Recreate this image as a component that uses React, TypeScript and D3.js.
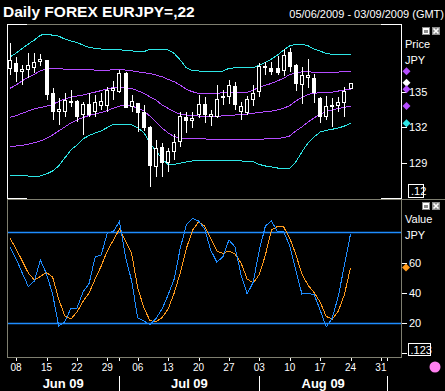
import React from 'react';
import * as d3 from 'd3';

// trading days: Fri 5 Jun 2009 .. Thu 3 Sep 2009 (weekends skipped)
const firstDay = new Date(2009, 5, 5);
const lastDay = new Date(2009, 8, 3);
const days: Date[] = d3.timeDay
  .range(firstDay, d3.timeDay.offset(lastDay, 1))
  .filter(d => d.getDay() !== 0 && d.getDay() !== 6);

// daily candles (JPY per EUR)
const opens = [136.88, 137.43, 136.68, 136.82, 137.03, 137.51, 137.66, 134.87, 133.27, 133.26, 134.05, 134.22, 133.05, 133.97, 133.30, 133.80, 133.80, 135.10, 135.00, 136.57, 133.68, 134.03, 133.30, 132.00, 128.69, 130.34, 128.98, 129.97, 130.78, 132.90, 132.57, 133.05, 134.01, 132.92, 132.84, 134.47, 134.60, 135.48, 133.30, 133.21, 134.30, 135.00, 137.15, 137.01, 136.96, 136.78, 138.37, 137.24, 135.56, 136.19, 136.15, 134.47, 132.90, 133.89, 133.83, 134.05, 135.27];
const highs = [139.06, 137.93, 137.24, 138.22, 138.27, 138.13, 137.70, 135.29, 134.47, 134.87, 135.18, 134.30, 134.11, 134.87, 134.72, 134.87, 135.42, 135.92, 136.82, 136.68, 134.72, 134.05, 133.89, 132.10, 130.91, 130.74, 130.28, 131.45, 133.27, 133.30, 133.34, 134.72, 134.56, 133.47, 135.56, 135.14, 135.98, 135.84, 134.16, 134.64, 135.56, 137.45, 137.49, 137.51, 138.02, 138.58, 138.69, 137.32, 137.07, 137.74, 136.48, 134.56, 134.68, 134.47, 134.58, 135.42, 135.77];
const lows = [136.40, 135.84, 135.56, 136.15, 136.54, 137.15, 134.30, 132.59, 132.21, 132.84, 133.74, 132.42, 131.37, 132.88, 132.90, 133.47, 133.27, 134.30, 134.87, 133.61, 133.34, 131.65, 131.71, 127.04, 127.87, 127.87, 128.27, 129.27, 130.39, 131.51, 131.96, 132.77, 132.38, 132.13, 132.77, 133.89, 133.93, 133.47, 132.63, 133.05, 133.80, 134.56, 136.38, 136.38, 136.40, 136.32, 136.68, 135.08, 133.97, 135.35, 134.05, 132.40, 132.59, 132.07, 133.32, 132.84, 135.25];
const closes = [137.66, 136.68, 136.93, 137.24, 137.49, 137.77, 134.72, 133.30, 133.52, 134.30, 134.22, 132.90, 133.97, 133.05, 134.11, 134.22, 135.14, 135.35, 136.54, 133.66, 134.22, 133.19, 131.96, 128.77, 130.32, 128.98, 130.03, 130.81, 132.96, 132.57, 132.77, 133.97, 133.05, 133.13, 134.36, 134.64, 135.56, 133.89, 133.80, 134.36, 134.89, 137.15, 136.99, 136.68, 136.59, 138.08, 137.10, 135.65, 136.44, 136.40, 134.89, 132.88, 133.80, 133.76, 134.16, 135.06, 135.75];

// bollinger bands
const bandUpper2 = [137.91, 138.24, 138.62, 139.00, 139.34, 139.75, 139.81, 139.75, 139.67, 139.42, 139.25, 139.14, 138.91, 138.72, 138.64, 138.58, 138.58, 138.55, 138.52, 138.47, 138.44, 138.35, 138.35, 138.58, 138.58, 138.55, 138.50, 138.22, 137.66, 137.01, 136.76, 136.74, 136.68, 136.68, 136.68, 136.74, 136.96, 137.01, 137.01, 137.01, 137.01, 137.24, 137.46, 137.74, 138.08, 138.50, 138.86, 138.97, 138.97, 138.86, 138.58, 138.41, 138.22, 138.13, 138.13, 138.13, 138.13];
const bandUpper1 = [135.29, 135.56, 135.92, 136.21, 136.46, 136.76, 136.90, 136.93, 136.93, 136.90, 136.88, 136.88, 136.88, 136.84, 136.82, 136.79, 136.79, 136.88, 136.90, 136.82, 136.76, 136.68, 136.59, 136.54, 136.40, 136.26, 136.04, 135.84, 135.56, 135.20, 135.00, 134.87, 134.87, 134.81, 134.87, 134.92, 134.92, 134.92, 134.92, 134.95, 135.14, 135.37, 135.54, 135.70, 135.92, 136.12, 136.46, 136.54, 136.68, 136.68, 136.63, 136.63, 136.63, 136.63, 136.65, 136.68, 136.71];
const bandMid = [132.85, 132.99, 133.19, 133.38, 133.57, 133.68, 133.78, 133.93, 134.18, 134.39, 134.56, 134.64, 134.72, 134.85, 134.97, 135.10, 135.23, 135.35, 135.37, 135.34, 135.28, 135.08, 134.87, 134.58, 134.30, 133.89, 133.61, 133.32, 133.11, 133.05, 132.99, 132.96, 132.96, 132.96, 132.90, 132.99, 132.99, 133.05, 133.11, 133.13, 133.19, 133.27, 133.32, 133.38, 133.47, 133.61, 133.84, 134.22, 134.51, 134.77, 134.87, 134.92, 134.95, 134.97, 135.06, 135.14, 135.20];
const bandLower1 = [130.39, 130.45, 130.51, 130.59, 130.73, 130.87, 131.08, 131.37, 131.71, 132.04, 132.38, 132.63, 132.84, 133.01, 133.13, 133.26, 133.42, 133.63, 133.80, 133.89, 133.80, 133.63, 133.38, 132.96, 132.46, 131.96, 131.54, 131.24, 131.09, 131.04, 131.04, 131.04, 131.04, 131.01, 131.01, 131.01, 131.01, 131.01, 131.01, 131.01, 131.01, 131.01, 131.04, 131.04, 131.08, 131.14, 131.29, 131.71, 132.04, 132.46, 132.80, 133.13, 133.34, 133.47, 133.59, 133.69, 133.80];
const bandLower2 = [127.96, 127.93, 127.98, 127.93, 127.88, 127.93, 128.10, 128.35, 128.77, 129.44, 130.11, 130.53, 131.04, 131.33, 131.54, 131.71, 132.00, 132.29, 132.29, 132.25, 132.21, 131.96, 131.58, 130.70, 130.03, 129.36, 128.90, 128.90, 129.00, 129.11, 129.19, 129.19, 129.19, 129.19, 129.19, 129.19, 129.19, 129.19, 129.19, 129.17, 129.13, 128.90, 128.77, 128.69, 128.60, 128.52, 128.56, 129.11, 129.95, 130.70, 131.20, 131.62, 131.76, 131.85, 131.96, 132.12, 132.35];

// stochastic oscillator
const stochK = [70.3, 62.4, 53.2, 44.3, 47.9, 61.7, 52.5, 39.3, 18.2, 20.9, 29.9, 29.9, 40.6, 46.2, 63.7, 65, 79.5, 80.5, 87.1, 63.7, 47.9, 23.5, 21.5, 19.2, 23.2, 29.4, 38.7, 49.2, 69.6, 84.8, 89.2, 87.4, 82.2, 68.3, 60.4, 63.7, 74.9, 70.3, 51.8, 39.3, 47.2, 68.3, 84.1, 87.4, 80.4, 80.4, 71, 55.1, 39.3, 39.6, 39, 28.8, 17.6, 23.5, 38, 58.4, 78.9];
const stochD = [75.9, 69, 61.1, 53.2, 48.5, 50.9, 53.5, 50.5, 36, 24.8, 22.8, 27.4, 34.4, 40, 49.2, 57.8, 67.7, 74.9, 82.2, 73.9, 66, 43.3, 30.4, 21.8, 20.9, 23.8, 29.4, 40, 53.2, 69.3, 81.2, 86.8, 84.1, 76.2, 67.7, 66, 67.7, 65.7, 59.7, 49.2, 46.6, 52.2, 65, 81.5, 83.8, 83.5, 76.2, 65.4, 52.5, 45.2, 40.3, 34, 24.5, 22.8, 28.1, 39, 56.7];

const priceTicks = [129, 132, 135];
const stochTicks = [20, 40, 60];
const stochLevels = [20, 80];

const W = 445;
const H = 391;
const L = 7;
const R = 401;
const TOP1 = 25;
const SEP = 199;
const BOT = 357;

const FONT = "'Liberation Sans', Arial, sans-serif";
const GRAY = '#7f7f70';
const CYAN = '#2de6e6';
const MAGENTA = '#b44cff';
const BLUE = '#1e8cff';
const ORANGE = '#ff9a1c';

const x = d3.scaleLinear().domain([-0.5, 64.3]).range([L, R]);
const yP = d3.scaleLinear().domain([126.0, 140.6]).range([SEP, TOP1]);
const yS = d3.scaleLinear().domain([-2.2, 101.9]).range([BOT, SEP]);

const px = (v: number) => Math.round(v) + 0.5;

function Diamond({ cx, cy, fill }: { cx: number; cy: number; fill: string }) {
  const r = 4;
  return <path d={`M${cx},${cy - r}L${cx + r},${cy}L${cx},${cy + r}L${cx - r},${cy}Z`} fill={fill} />;
}

function WinButtons({ y }: { y: number }) {
  return (
    <g>
      <rect x={422} y={y} width={8} height={8} fill="#8c8c8c" />
      <rect x={423.5} y={y + 1.5} width={5} height={5} fill="none" stroke="#fff" strokeWidth={1} />
      <line x1={423.5} x2={428.5} y1={y + 2.5} y2={y + 2.5} stroke="#fff" />
      <rect x={432} y={y} width={8} height={8} fill="#8c8c8c" />
      <path d={`M${433.5},${y + 1.5}L${438.5},${y + 6.5}M${438.5},${y + 1.5}L${433.5},${y + 6.5}`} stroke="#fff" strokeWidth={1.6} />
    </g>
  );
}

export default function App() {
  const bandLine = d3.line<number>().x((_, i) => x(i)).y(d => yP(d));
  const stochLine = d3.line<number>().x((_, i) => x(i)).y(d => yS(d));

  const mondays = days.map((d, i) => ({ d, i })).filter(o => o.d.getDay() === 1);
  const monthStarts = days
    .map((d, i) => ({ d, i }))
    .filter(o => o.i > 0 && o.d.getMonth() !== days[o.i - 1].getMonth());
  const fmtMonth = d3.timeFormat('%b %y');
  const monthSpans = monthStarts.map((m, k) => ({
    label: fmtMonth(days[k === 0 ? 0 : monthStarts[k - 1].i]),
    x0: k === 0 ? L : x(monthStarts[k - 1].i),
    x1: x(m.i),
  }));

  const last = closes.length - 1;
  const bands = [
    { data: bandUpper2, color: CYAN, marker: false },
    { data: bandUpper1, color: MAGENTA, marker: true },
    { data: bandMid, color: MAGENTA, marker: true },
    { data: bandLower1, color: MAGENTA, marker: true },
    { data: bandLower2, color: CYAN, marker: true },
  ];

  return (
    <div style={{ position: 'fixed', left: 0, top: 0, width: W, height: H, background: '#000' }}>
      <svg width={W} height={H} style={{ display: 'block' }} fontFamily={FONT}>
        <rect width={W} height={H} fill="#000" />
        <defs>
          <clipPath id="clipTop"><rect x={L + 1} y={TOP1 + 1} width={R - L - 1} height={SEP - TOP1 - 2} /></clipPath>
          <clipPath id="clipBot"><rect x={L + 1} y={SEP + 1} width={R - L - 1} height={BOT - SEP - 1} /></clipPath>
        </defs>

        {/* header */}
        <text x={3} y={17} fill="#fff" fontSize={15.5} fontWeight="bold">Daily FOREX EURJPY=,22</text>
        <text x={444} y={18} fill="#fff" fontSize={11} textAnchor="end">05/06/2009 - 03/09/2009 (GMT)</text>

        {/* frames */}
        <line x1={L} x2={R + 1} y1={TOP1 - 0.5} y2={TOP1 - 0.5} stroke={GRAY} />
        <line x1={L} x2={W} y1={SEP + 0.5} y2={SEP + 0.5} stroke={GRAY} />
        <line x1={L} x2={R + 1} y1={BOT + 0.5} y2={BOT + 0.5} stroke={GRAY} />
        <line x1={L + 0.5} x2={L + 0.5} y1={SEP} y2={BOT + 1} stroke={GRAY} />
        <line x1={R + 0.5} x2={R + 0.5} y1={SEP} y2={BOT + 1} stroke={GRAY} />
        <line x1={L + 0.5} x2={L + 0.5} y1={TOP1 - 1} y2={SEP} stroke="#fff" />
        <line x1={R + 0.5} x2={R + 0.5} y1={TOP1 - 1} y2={SEP} stroke="#fff" />
        <line x1={L} x2={L + 20} y1={TOP1 - 0.5} y2={TOP1 - 0.5} stroke="#fff" />
        <line x1={R - 20} x2={R + 1} y1={TOP1 - 0.5} y2={TOP1 - 0.5} stroke="#fff" />
        <line x1={L} x2={L + 20} y1={SEP - 0.5} y2={SEP - 0.5} stroke="#fff" />
        <line x1={R - 20} x2={R + 1} y1={SEP - 0.5} y2={SEP - 0.5} stroke="#fff" />

        {/* price panel */}
        <g clipPath="url(#clipTop)">
          {bands.map((b, k) => (
            <path key={k} d={bandLine(b.data) || ''} fill="none" stroke={b.color} strokeWidth={1} shapeRendering="crispEdges" />
          ))}
          {opens.map((o, i) => {
            const c = closes[i];
            const r = Math.round(x(i));
            const top = Math.round(yP(Math.max(o, c)));
            const bot = Math.round(yP(Math.min(o, c)));
            const up = c >= o;
            return (
              <g key={i} shapeRendering="crispEdges">
                <line x1={r + 0.5} x2={r + 0.5} y1={Math.round(yP(highs[i]))} y2={Math.round(yP(lows[i]))} stroke="#fff" />
                {up ? (
                  <rect x={r - 1.5} y={top + 0.5} width={3} height={Math.max(bot - top - 1, 1)} fill="#000" stroke="#fff" />
                ) : (
                  <rect x={r - 2} y={top} width={4} height={Math.max(bot - top, 2)} fill="#fff" />
                )}
              </g>
            );
          })}
        </g>

        {/* price axis */}
        {priceTicks.map(t => (
          <g key={t}>
            <line x1={R + 1} x2={R + 6} y1={px(yP(t))} y2={px(yP(t))} stroke="#fff" />
            <text x={409} y={yP(t) + 4} fill="#fff" fontSize={11}>{t}</text>
          </g>
        ))}
        <text x={405} y={48} fill="#fff" fontSize={11}>Price</text>
        <text x={405} y={64} fill="#fff" fontSize={11}>JPY</text>
        <Diamond cx={406.5} cy={yP(closes[last])} fill="#fff" />
        {bands.filter(b => b.marker).map((b, k) => (
          <Diamond key={k} cx={406.5} cy={yP(b.data[last])} fill={b.color} />
        ))}
        <rect x={408.5} y={184.5} width={15} height={13} fill="#000" stroke="#fff" />
        <text x={411} y={195} fill="#fff" fontSize={11}>.12</text>
        <WinButtons y={27} />

        {/* stochastic panel */}
        <g clipPath="url(#clipBot)">
          {stochLevels.map(v => (
            <line key={v} x1={L} x2={R} y1={px(yS(v))} y2={px(yS(v))} stroke={BLUE} strokeWidth={1.3} />
          ))}
          <path d={stochLine(stochD) || ''} fill="none" stroke={ORANGE} strokeWidth={1} shapeRendering="crispEdges" />
          <path d={stochLine(stochK) || ''} fill="none" stroke={BLUE} strokeWidth={1} shapeRendering="crispEdges" />
        </g>
        {stochTicks.map(t => (
          <g key={t}>
            <line x1={R + 1} x2={R + 6} y1={px(yS(t))} y2={px(yS(t))} stroke="#fff" />
            <text x={409} y={yS(t) + 4} fill="#fff" fontSize={11}>{t}</text>
          </g>
        ))}
        <text x={405} y={223} fill="#fff" fontSize={11}>Value</text>
        <text x={405} y={239} fill="#fff" fontSize={11}>JPY</text>
        <Diamond cx={406} cy={yS(stochD[last])} fill={ORANGE} />
        <line x1={R + 1} x2={R + 6} y1={353.5} y2={353.5} stroke="#fff" />
        <rect x={408.5} y={343.5} width={22} height={12} fill="#000" stroke="#fff" />
        <text x={410.5} y={353.5} fill="#fff" fontSize={11}>.123</text>
        <WinButtons y={202} />

        {/* date axis */}
        {mondays.map(o => (
          <g key={o.i}>
            <line x1={px(x(o.i))} x2={px(x(o.i))} y1={358} y2={361} stroke="#fff" />
            <text x={x(o.i)} y={371} fill="#fff" fontSize={10} textAnchor="middle">{d3.timeFormat('%d')(o.d)}</text>
          </g>
        ))}
        {monthStarts.map(m => (
          <g key={m.i}>
            <line x1={px(x(m.i))} x2={px(x(m.i))} y1={358} y2={361} stroke="#fff" />
            <line x1={px(x(m.i))} x2={px(x(m.i))} y1={376} y2={H} stroke="#fff" />
          </g>
        ))}
        {monthSpans.map(s => (
          <text key={s.label} x={(s.x0 + s.x1) / 2} y={388} fill="#fff" fontSize={13} fontWeight="bold" textAnchor="middle">{s.label}</text>
        ))}
        <circle cx={435} cy={367} r={5.5} fill="#ff80f0" />
      </svg>
    </div>
  );
}
